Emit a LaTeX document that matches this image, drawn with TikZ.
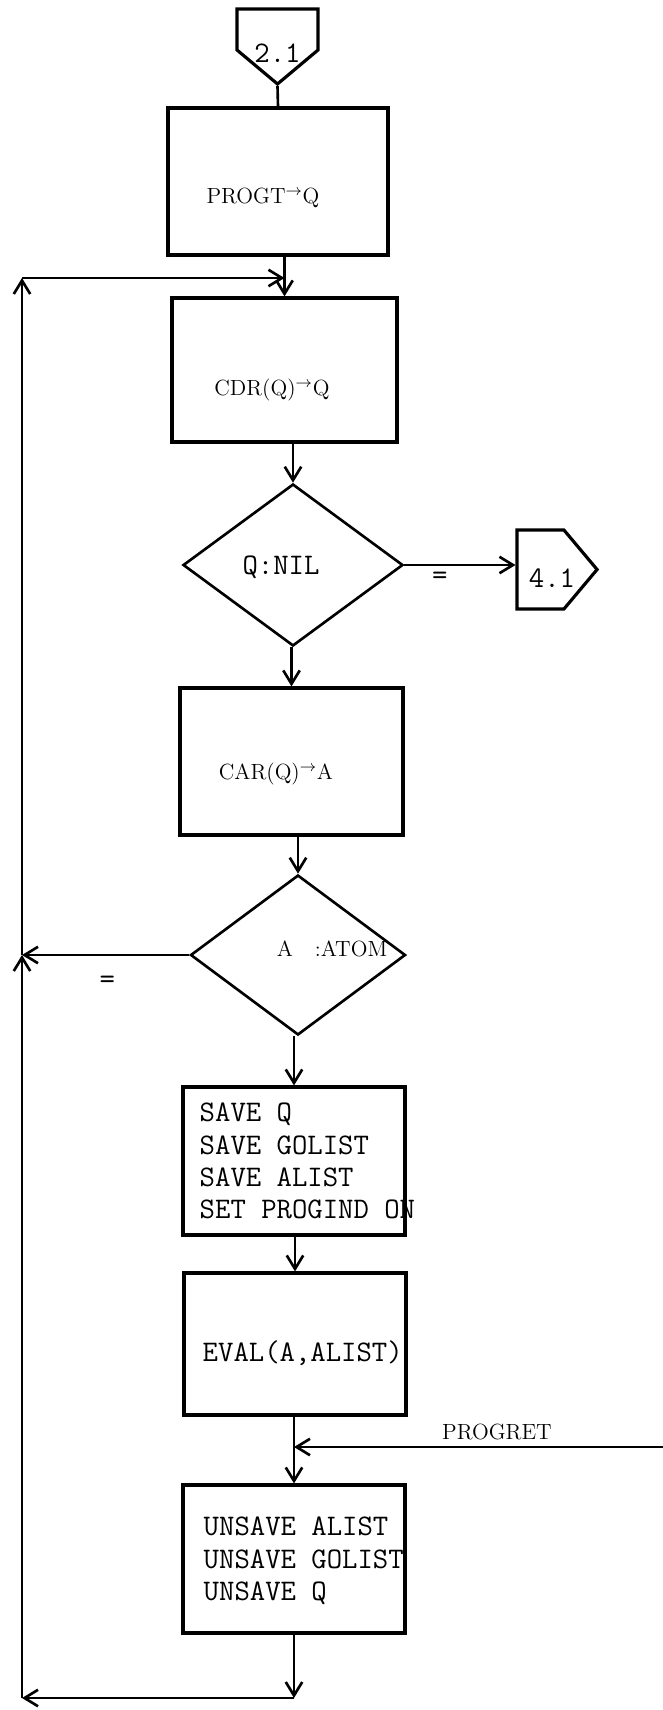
\documentclass[tikz,border=0pt]{standalone}
\usepackage{tikz}
\usetikzlibrary{arrows.meta,positioning,shapes.geometric,shapes.symbols}

\begin{document}
\begin{tikzpicture}[
  line width=1.5pt,
  tt/.style={font=\fontsize{17}{18.4}\selectfont\ttfamily},
  rm/.style={font=\fontsize{12.5}{15}\selectfont\rmfamily},
  proc/.style={draw, line width=1.8pt, minimum width=4.44cm, minimum height=2.94cm, inner sep=0pt},
  test/.style={draw, diamond, inner sep=0pt},
  conn/.style={draw, line width=1.8pt, signal, signal pointer angle=100, inner sep=0pt},
  txt/.style={inner sep=0pt, align=left},
  arrow/.style={-{Straight Barb[length=2.7mm, width=3.3mm]}}
]
\useasboundingbox (0,0) rectangle (13.26,-34.2);

% main column
\node[conn, signal to=south, minimum width=1.62cm, minimum height=0.82cm,
  label={[txt, tt, yshift=-0.47cm]center:2.1}] (c21) at (5.55,-0.59) {};
\node[proc, minimum width=4.4cm,
  label={[txt, rm, xshift=-0.3cm, yshift=-0.33cm]center:PROGT$^{\rightarrow}$Q}] (progt) at (5.56,-3.63) {};
\node[proc, minimum width=4.5cm, minimum height=2.88cm,
  label={[txt, rm, xshift=-0.25cm, yshift=-0.4cm]center:CDR(Q)$^{\rightarrow}$Q}] (cdr) at (5.69,-7.40) {};
\node[test, minimum width=4.4cm, minimum height=3.24cm,
  label={[txt, tt, xshift=-0.24cm, yshift=-0.04cm]center:Q:NIL}] (qnil) at (5.86,-11.30) {};
\node[conn, signal to=east, minimum width=1.6cm, minimum height=1.58cm,
  label={[txt, tt, xshift=0.23cm, yshift=-0.17cm]center:4.1}] (c41) at (10.81,-11.39) {};
\node[proc, minimum width=4.46cm,
  label={[txt, rm, xshift=-0.31cm, yshift=-0.25cm]center:CAR(Q)$^{\rightarrow}$A}] (car) at (5.83,-15.23) {};
\node[test, minimum width=4.3cm, minimum height=3.2cm,
  label={[txt, rm, xshift=0.68cm, yshift=0.12cm]center:A\quad:ATOM}] (atom) at (5.96,-19.10) {};
\node[proc, minimum height=2.96cm,
  label={[txt, tt, anchor=west, xshift=0.34cm]west:SAVE Q\\SAVE GOLIST\\SAVE ALIST\\SET PROGIND ON}] (save) at (5.88,-23.22) {};
\node[proc, minimum height=2.84cm,
  label={[txt, tt, anchor=west, xshift=0.38cm, yshift=-0.18cm]west:EVAL(A,ALIST)}] (eval) at (5.90,-26.88) {};
\node[proc, minimum height=2.96cm,
  label={[txt, tt, anchor=west, xshift=0.42cm, yshift=-0.04cm]west:UNSAVE ALIST\\UNSAVE GOLIST\\UNSAVE Q}] (unsave) at (5.88,-31.18) {};

% loop corners
\coordinate (tl) at (0.44,-5.56);
\coordinate (bl) at (0.44,-33.96);
\coordinate (pr) at (13.26,-28.94);
\coordinate (ml) at (atom.west -| bl);
\coordinate (bm) at (unsave.south |- bl);
\coordinate (tm) at (tl -| cdr.north);
\coordinate (pm) at (pr -| unsave.north);

\draw (c21.south) -- (progt.north);
\draw[arrow] (cdr.north |- progt.south) -- (cdr.north);
\draw[arrow] (qnil.north |- cdr.south) -- (qnil.north);
\draw[arrow] (qnil.east) -- node[tt, below, pos=0.32]{=} (qnil.east -| c41.west);
\draw[arrow] (car.north |- qnil.south) -- (car.north);
\draw[arrow] (atom.north |- car.south) -- (atom.north);
\draw[arrow] (atom.west) -- node[tt, below=0.28cm, pos=0.49]{=} (ml);
\draw[arrow] (save.north |- atom.south) -- (save.north);
\draw[arrow] (eval.north |- save.south) -- (eval.north);
\draw[arrow] (unsave.north |- eval.south) -- (unsave.north);
\draw[arrow] (pr) -- node[rm, above, pos=0.45]{PROGRET} (pm);
\draw[arrow] (unsave.south) -- (bm);
\draw[arrow] (bm) -- (bl);
\draw[arrow] (bl) -- (ml);
\draw[arrow] (ml) -- (tl);
\draw[arrow] (tl) -- (tm);
\end{tikzpicture}
\end{document}
